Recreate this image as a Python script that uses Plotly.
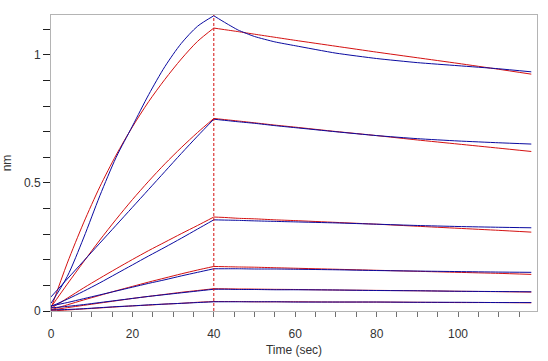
import plotly.graph_objects as go

# --- data ---
t_assoc = [0, 4, 8, 12, 16, 20, 24, 28, 32, 36, 40]
t_dissoc = [40, 43, 46, 50, 55, 60, 70, 80, 90, 100, 110, 118]

# measured (blue) association
data_assoc = [
    [0.03, 0.135, 0.285, 0.45, 0.60, 0.722, 0.845, 0.955, 1.045, 1.112, 1.153],
    [0.055, 0.125, 0.195, 0.265, 0.335, 0.405, 0.475, 0.545, 0.615, 0.683, 0.749],
    [0.018, 0.046, 0.077, 0.11, 0.145, 0.18, 0.215, 0.249, 0.284, 0.32, 0.356],
    [0.02, 0.033, 0.048, 0.063, 0.078, 0.093, 0.108, 0.122, 0.137, 0.151, 0.165],
    [0.012, 0.018, 0.025, 0.033, 0.041, 0.049, 0.057, 0.064, 0.071, 0.078, 0.085],
    [0.004, 0.006, 0.009, 0.013, 0.017, 0.02, 0.024, 0.027, 0.030, 0.033, 0.036],
]
# measured (blue) dissociation
data_dissoc = [
    [1.153, 1.124, 1.097, 1.072, 1.051, 1.036, 1.007, 0.986, 0.970, 0.958, 0.946, 0.934],
    [0.749, 0.744, 0.739, 0.733, 0.724, 0.716, 0.700, 0.685, 0.673, 0.664, 0.657, 0.652],
    [0.356, 0.355, 0.354, 0.352, 0.350, 0.348, 0.344, 0.339, 0.334, 0.330, 0.327, 0.325],
    [0.165, 0.165, 0.165, 0.164, 0.164, 0.163, 0.161, 0.158, 0.156, 0.154, 0.152, 0.151],
    [0.085, 0.085, 0.084, 0.084, 0.083, 0.083, 0.082, 0.080, 0.079, 0.077, 0.076, 0.075],
    [0.036, 0.036, 0.036, 0.036, 0.036, 0.035, 0.035, 0.035, 0.034, 0.034, 0.033, 0.033],
]
# fitted (red) association
fit_assoc = [
    [0.01, 0.187, 0.344, 0.485, 0.609, 0.719, 0.818, 0.905, 0.984, 1.053, 1.105],
    [0.015, 0.105, 0.192, 0.277, 0.358, 0.435, 0.507, 0.575, 0.638, 0.697, 0.752],
    [0.01, 0.05, 0.09, 0.128, 0.165, 0.201, 0.236, 0.269, 0.302, 0.334, 0.367],
    [0.005, 0.024, 0.043, 0.061, 0.079, 0.096, 0.113, 0.129, 0.145, 0.16, 0.174],
    [0.003, 0.013, 0.022, 0.031, 0.040, 0.049, 0.057, 0.065, 0.073, 0.080, 0.087],
    [0.0, 0.004, 0.008, 0.012, 0.016, 0.02, 0.023, 0.027, 0.030, 0.034, 0.037],
]
# fitted (red) dissociation
fit_dissoc = [
    [1.105, 1.098, 1.091, 1.081, 1.069, 1.057, 1.034, 1.011, 0.989, 0.967, 0.944, 0.925],
    [0.752, 0.747, 0.742, 0.735, 0.726, 0.718, 0.701, 0.685, 0.668, 0.652, 0.636, 0.623],
    [0.367, 0.365, 0.362, 0.360, 0.356, 0.353, 0.346, 0.339, 0.331, 0.323, 0.315, 0.308],
    [0.174, 0.173, 0.172, 0.171, 0.169, 0.167, 0.163, 0.159, 0.155, 0.151, 0.147, 0.143],
    [0.087, 0.0865, 0.086, 0.0855, 0.0845, 0.084, 0.082, 0.0805, 0.079, 0.077, 0.0755, 0.074],
    [0.037, 0.037, 0.037, 0.036, 0.036, 0.036, 0.035, 0.035, 0.034, 0.033, 0.033, 0.032],
]
x_tick_vals = [0, 20, 40, 60, 80, 100]
y_tick_vals = [0, 0.5, 1]
y_tick_text = ["0", "0.5", "1"]
switch_time = 40

BLUE = "#0a0aa0"
RED = "#d41010"

fig = go.Figure()
for i in range(len(data_assoc)):
    fig.add_trace(go.Scatter(x=t_assoc, y=fit_assoc[i], mode="lines",
                             line=dict(color=RED, width=1, shape="spline", smoothing=0.8),
                             hoverinfo="skip", showlegend=False))
    fig.add_trace(go.Scatter(x=t_dissoc, y=fit_dissoc[i], mode="lines",
                             line=dict(color=RED, width=1, shape="spline", smoothing=0.5),
                             hoverinfo="skip", showlegend=False))
for i in range(len(data_assoc)):
    fig.add_trace(go.Scatter(x=t_assoc, y=data_assoc[i], mode="lines",
                             line=dict(color=BLUE, width=1, shape="spline", smoothing=0.8),
                             hoverinfo="skip", showlegend=False))
    fig.add_trace(go.Scatter(x=t_dissoc, y=data_dissoc[i], mode="lines",
                             line=dict(color=BLUE, width=1, shape="spline", smoothing=0.5),
                             hoverinfo="skip", showlegend=False))

fig.add_shape(type="line", xref="x", yref="paper", x0=switch_time, x1=switch_time,
              y0=0, y1=1, line=dict(color=RED, width=1, dash="3px,2px"))

axis_font = dict(family="Liberation Sans, Arial, sans-serif", size=12, color="#333333")
fig.update_layout(
    width=548, height=361,
    margin=dict(l=51, r=11, t=15, b=50, autoexpand=False),
    paper_bgcolor="white", plot_bgcolor="white",
    font=axis_font,
    xaxis=dict(range=[0, 119.4], showgrid=False, zeroline=False, automargin=False,
               showline=True, linecolor="#b4b4b4", linewidth=1, mirror=True,
               tickmode="array", tickvals=x_tick_vals, ticks="outside", ticklen=5,
               tickcolor="#707070", tickfont=axis_font, ticklabelstandoff=7,
               minor=dict(dtick=5, ticks="outside", ticklen=5, tickcolor="#707070", showgrid=False),
               title=dict(text="Time (sec)", font=axis_font, standoff=5)),
    yaxis=dict(range=[0, 1.156], showgrid=False, zeroline=False, automargin=False,
               showline=True, linecolor="#b4b4b4", linewidth=1, mirror=True,
               tickmode="array", tickvals=y_tick_vals, ticktext=y_tick_text,
               ticks="outside", ticklen=7, tickcolor="#202020", tickfont=axis_font,
               minor=dict(dtick=0.1, ticks="outside", ticklen=7, tickcolor="#202020", showgrid=False),
               title=dict(text="nm", font=axis_font, standoff=10)),
)

fig.write_html("out.html", config={"displayModeBar": False},
               post_script="document.body.style.margin='0px';")
